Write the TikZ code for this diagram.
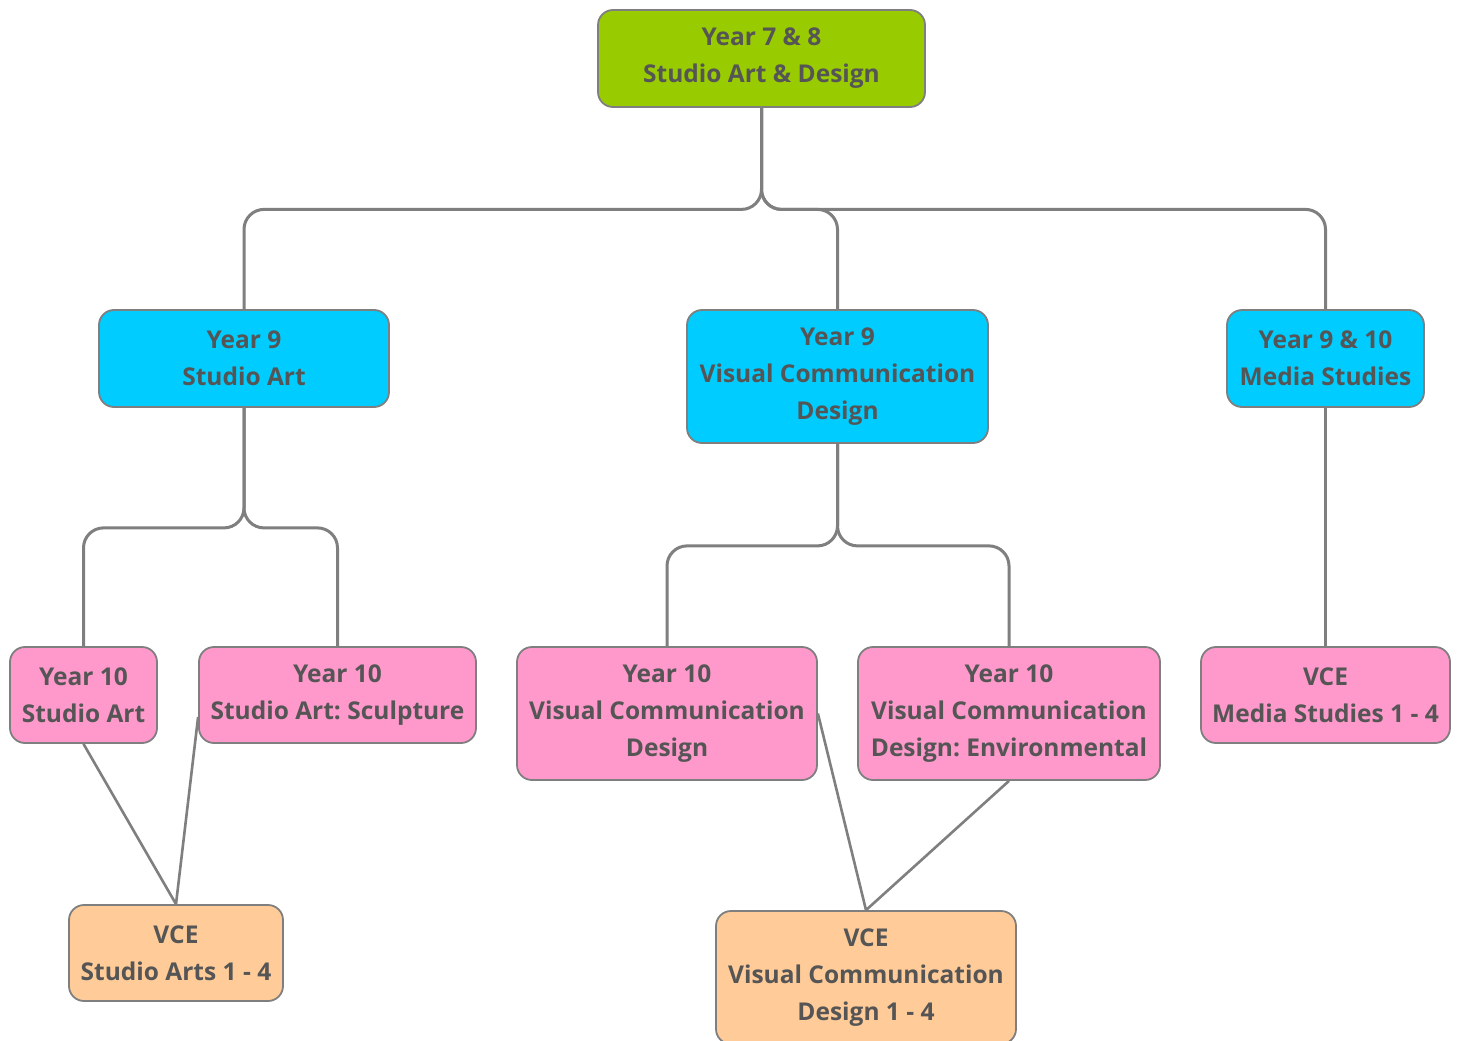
\documentclass[tikz,border=0pt]{standalone}
\usepackage{fontspec}
\setmainfont{Open Sans}
\usetikzlibrary{calc}
\frenchspacing
\definecolor{txt}{HTML}{555555}
\definecolor{edge}{HTML}{7F7F7F}
\definecolor{cgreen}{HTML}{99CC00}
\definecolor{ccyan}{HTML}{00CCFF}
\definecolor{cpink}{HTML}{FF99CC}
\definecolor{corange}{HTML}{FFCC99}
\tikzset{
  box/.style={draw=edge, line width=1.8pt, rounded corners=15pt, inner sep=0pt, align=center,
    text=txt, font=\fontsize{24.5}{37}\selectfont\bfseries\frenchspacing},
  conn/.style={draw=edge, line width=3pt, rounded corners=20pt},
  lnk/.style={draw=edge, line width=2.6pt},
}
\begin{document}
\begin{tikzpicture}[x=1pt,y=-1pt]
\clip (0,0) rectangle (1462,1041);
\fill[white] (0,0) rectangle (1462,1041);
\node[box, fill=cgreen, minimum width=327pt, minimum height=97pt] (top) at (761.5,58.5) {Year 7 \& 8\\Studio Art \& Design};
\node[box, fill=ccyan, minimum width=290pt, minimum height=97pt] (y9sa) at (244,358.5) {Year 9\\Studio Art};
\node[box, fill=ccyan, minimum width=301pt, minimum height=133pt] (y9vcd) at (837.5,376.5) {Year 9\\Visual Communication\\Design};
\node[box, fill=ccyan, minimum width=197pt, minimum height=97pt] (y9ms) at (1325.5,358.5) {Year 9 \& 10\\Media Studies};
\node[box, fill=cpink, minimum width=147pt, minimum height=96pt] (y10sa) at (83.5,695) {Year 10\\Studio Art};
\node[box, fill=cpink, minimum width=277pt, minimum height=96pt] (y10sc) at (337.5,695) {Year 10\\Studio Art: Sculpture};
\node[box, fill=cpink, minimum width=300pt, minimum height=133pt] (y10vcd) at (667,713.5) {Year 10\\Visual Communication\\Design};
\node[box, fill=cpink, minimum width=302pt, minimum height=133pt] (y10env) at (1009,713.5) {Year 10\\Visual Communication\\Design: Environmental};
\node[box, fill=cpink, minimum width=249pt, minimum height=96pt] (vcems) at (1325.5,695) {VCE\\Media Studies 1 - 4};
\node[box, fill=corange, minimum width=214pt, minimum height=96pt] (vcesa) at (176,953) {VCE\\Studio Arts 1 - 4};
\node[box, fill=corange, minimum width=300pt, minimum height=133pt] (vcevcd) at (866,977.5) {VCE\\Visual Communication\\Design 1 - 4};
% tree connectors
\draw[conn] (top.south) -- ++(0,101.5) -| (y9sa.north);
\draw[conn] (top.south) -- ++(0,101.5) -| (y9vcd.north);
\draw[conn] (top.south) -- ++(0,101.5) -| (y9ms.north);
\draw[conn] (y9sa.south) -- ++(0,120) -| (y10sa.north);
\draw[conn] (y9sa.south) -- ++(0,120) -| (y10sc.north);
\draw[conn] (y9vcd.south) -- ++(0,102) -| (y10vcd.north);
\draw[conn] (y9vcd.south) -- ++(0,102) -| (y10env.north);
\draw[conn] (y9ms.south) -- (vcems.north);
% links
\draw[lnk] (y10sa.south) -- (vcesa.north);
\draw[lnk] ([yshift=-22pt]y10sc.west) -- (vcesa.north);
\draw[lnk] (y10vcd.east) -- (vcevcd.north);
\draw[lnk] (y10env.south) -- (vcevcd.north);
\end{tikzpicture}
\end{document}
